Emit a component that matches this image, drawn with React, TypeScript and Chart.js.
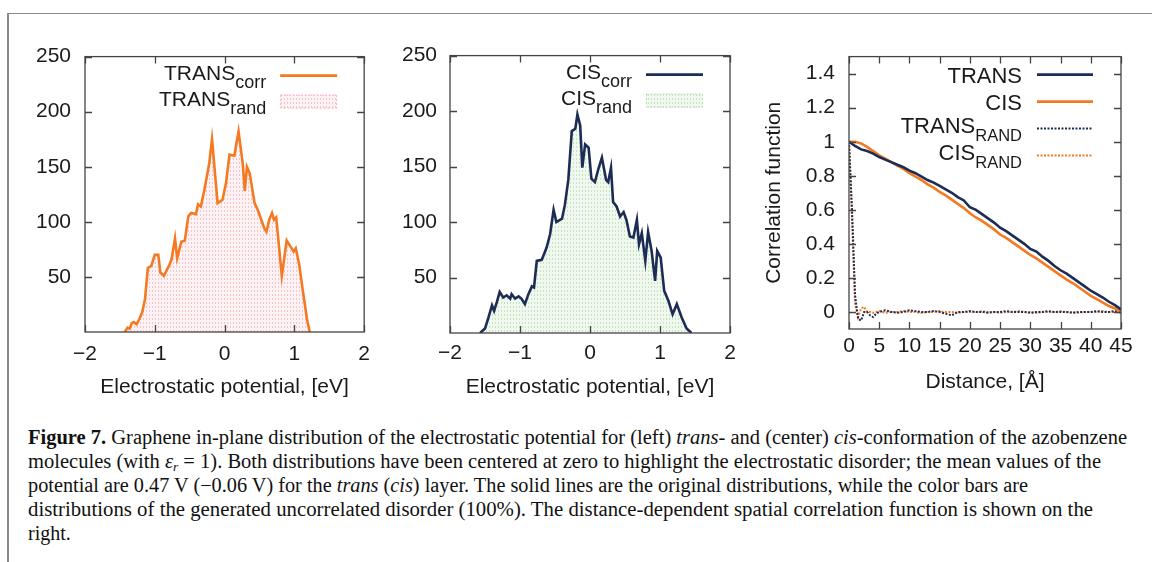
import React, { useEffect, useRef } from "react";
import { Chart, registerables } from "chart.js";

Chart.register(...registerables);

// ---------------- data ----------------
const transPotential = [-1.43,-1.39,-1.36,-1.33,-1.30,-1.26,-1.22,-1.18,-1.14,-1.10,-1.05,-1.00,-0.95,-0.92,-0.87,-0.79,-0.76,-0.71,-0.68,-0.62,-0.57,-0.52,-0.48,-0.41,-0.38,-0.34,-0.29,-0.22,-0.18,-0.10,-0.03,0.02,0.07,0.14,0.20,0.26,0.29,0.32,0.36,0.43,0.48,0.57,0.60,0.64,0.68,0.71,0.74,0.82,0.89,0.95,0.99,1.02,1.07,1.12,1.18,1.22];
const transCorr = [0,4,3,8,9,7,12,18,30,58,60,70,70,54,51,61,66,85,67,82,83,105,108,107,116,114,129,153,175,117,120,135,161,160,182,153,128,150,144,117,110,94,91,102,108,102,104,51,83,77,73,76,61,38,12,0];
const transRand = [0,4,3,8,9,7,12,18,30,58,60,70,70,54,51,61,66,85,67,82,83,105,108,107,116,114,129,153,175,117,120,135,161,160,182,153,128,150,144,117,110,94,91,102,108,102,104,51,83,77,73,76,61,38,12,0];

const cisPotential = [-1.57,-1.50,-1.45,-1.40,-1.37,-1.33,-1.29,-1.24,-1.19,-1.14,-1.12,-1.07,-1.02,-0.98,-0.93,-0.88,-0.83,-0.80,-0.76,-0.69,-0.67,-0.62,-0.57,-0.52,-0.48,-0.40,-0.36,-0.31,-0.26,-0.21,-0.18,-0.14,-0.11,-0.07,-0.02,0.02,0.07,0.12,0.17,0.23,0.26,0.30,0.33,0.38,0.43,0.48,0.52,0.57,0.62,0.67,0.70,0.74,0.79,0.83,0.88,0.93,0.96,1.01,1.06,1.12,1.18,1.24,1.31,1.38,1.45];
const cisCorr = [0,4,14,25,20,28,37,32,34,31,35,31,33,31,26,35,42,41,65,66,69,77,89,111,100,103,115,138,182,184,197,187,149,170,167,139,136,148,158,138,136,149,118,114,105,109,102,87,86,102,80,90,65,91,74,47,74,68,38,29,17,26,14,4,0];
const cisRand = [0,4,14,25,20,28,37,32,34,31,35,31,33,31,26,35,42,41,65,66,69,77,89,111,100,103,115,138,182,184,197,187,149,170,167,139,136,148,158,138,136,149,118,114,105,109,102,87,86,102,80,90,65,91,74,47,74,68,38,29,17,26,14,4,0];

const distance = [0,1,2,3,4,5,6,7,8,9,10,11,12,13,14,15,16,17,18,19,20,21,22,23,24,25,26,27,28,29,30,31,32,33,34,35,36,37,38,39,40,41,42,43,44,45];
const transCorrelation = [1.0,0.975,0.955,0.945,0.93,0.91,0.895,0.88,0.865,0.85,0.83,0.815,0.795,0.775,0.76,0.74,0.72,0.70,0.675,0.655,0.615,0.6,0.575,0.55,0.525,0.495,0.475,0.45,0.425,0.40,0.37,0.355,0.325,0.30,0.27,0.245,0.225,0.20,0.175,0.15,0.125,0.105,0.085,0.06,0.04,0.015];
const cisCorrelation = [1.0,1.0,0.99,0.97,0.945,0.92,0.9,0.88,0.86,0.84,0.815,0.795,0.775,0.75,0.73,0.705,0.685,0.66,0.635,0.61,0.58,0.555,0.535,0.51,0.485,0.455,0.435,0.41,0.385,0.36,0.335,0.315,0.29,0.265,0.24,0.215,0.19,0.17,0.145,0.12,0.095,0.075,0.055,0.035,0.02,0.005];

const randDistance = [0,0.5,1,1.5,2,2.5,3,3.5,4,4.5,5,6,7,8,9,10,11,12,13,14,15,16,17,18,19,20,21,22,23,24,25,26,27,28,29,30,31,32,33,34,35,36,37,38,39,40,41,42,43,44,45];
const transRandCorrelation = [1.0,0.6,0.1,-0.04,-0.05,0.0,0.0,-0.02,-0.03,-0.01,0.0,0.01,0.0,-0.005,0.0,0.01,0.005,0.0,0.0,0.005,0.0,-0.01,-0.02,0.0,0.0,0.005,0.0,0.0,-0.005,0.0,0.0,0.005,0.0,0.0,0.0,-0.005,0.0,0.0,0.005,0.0,0.0,0.0,-0.005,0.0,0.0,0.0,0.005,0.0,0.0,0.005,0.0];
const cisRandCorrelation = [1.0,0.55,0.05,-0.03,0.02,0.03,0.0,0.0,-0.005,0.0,0.005,-0.005,0.0,0.0,0.005,0.0,0.0,-0.005,0.0,0.0,0.005,0.0,0.0,-0.005,0.0,0.0,0.0,0.005,0.0,0.0,-0.005,0.0,0.0,0.005,0.0,0.0,-0.005,0.0,0.0,0.0,0.005,0.0,0.0,-0.005,0.0,0.0,0.0,0.005,0.0,0.0,-0.005];

const potentialTicks = [-2, -1, 0, 1, 2];
const countTicks = [50, 100, 150, 200, 250];
const distanceTicks = [0, 5, 10, 15, 20, 25, 30, 35, 40, 45];
const correlationTicks = [0, 0.2, 0.4, 0.6, 0.8, 1, 1.2, 1.4];

// ---------------- styling ----------------
const FONT = "'Liberation Sans', Arial, Helvetica, sans-serif";
const ORANGE = "#f47a22";
const NAVY = "#1d2c55";
const TEXT = "#1a1a1a";
const CAPTION_WIDTHS = [1099, 1073, 1000, 1065];

const fmt = (v: number) => (v < 0 ? "\u2212" + Math.abs(v) : String(v));
const pts = (xs: number[], ys: number[]) => xs.map((x, i) => ({ x, y: ys[i] }));

function makePattern(bg: string, line: string) {
  const c = document.createElement("canvas");
  c.width = 3;
  c.height = 4;
  const g = c.getContext("2d")!;
  g.fillStyle = bg;
  g.fillRect(0, 0, 3, 4);
  g.fillStyle = line;
  g.fillRect(0, 0, 1, 2);
  return g.createPattern(c, "repeat");
}

const framePlugin = {
  id: "frameTicks",
  afterDatasetsDraw(chart: any) {
    const { ctx, chartArea: a, scales } = chart;
    const L = 7;
    ctx.save();
    ctx.strokeStyle = "#444";
    ctx.lineWidth = 1.3;
    ctx.beginPath();
    for (const t of scales.x.ticks) {
      const p = Math.round(scales.x.getPixelForValue(t.value)) + 0.5;
      ctx.moveTo(p, a.bottom);
      ctx.lineTo(p, a.bottom - L);
      ctx.moveTo(p, a.top);
      ctx.lineTo(p, a.top + L);
    }
    for (const t of scales.y.ticks) {
      const p = Math.round(scales.y.getPixelForValue(t.value)) + 0.5;
      ctx.moveTo(a.left, p);
      ctx.lineTo(a.left + L, p);
      ctx.moveTo(a.right, p);
      ctx.lineTo(a.right - L, p);
    }
    ctx.stroke();
    ctx.strokeRect(a.left, a.top, a.right - a.left, a.bottom - a.top);
    ctx.restore();
  },
};

const legendPlugin = {
  id: "subLegend",
  afterDraw(chart: any, _args: any, opts: any) {
    const { ctx, chartArea: a } = chart;
    ctx.save();
    chart.data.datasets.forEach((d: any, i: number) => {
      const rowY = a.top + opts.firstRow + i * opts.rowGap;
      const textRight = a.right - opts.textGap;
      const s0 = a.right - opts.sampleFrom;
      const s1 = a.right - opts.sampleTo;
      ctx.fillStyle = TEXT;
      ctx.textAlign = "right";
      ctx.textBaseline = "alphabetic";
      if (d.sub) {
        ctx.font = `${opts.subSize}px ${FONT}`;
        ctx.fillText(d.sub, textRight, rowY + opts.subBase);
        const w = ctx.measureText(d.sub).width;
        ctx.font = `${opts.size}px ${FONT}`;
        ctx.fillText(d.label, textRight - w, rowY + opts.mainBaseSub);
      } else {
        ctx.font = `${opts.size}px ${FONT}`;
        ctx.fillText(d.label, textRight, rowY + opts.mainBase);
      }
      if (d.legendKind === "box") {
        ctx.fillStyle = d.backgroundColor;
        ctx.fillRect(s0, rowY - 7, s1 - s0, 14);
        ctx.setLineDash([2, 2]);
        ctx.strokeStyle = d.borderColor;
        ctx.lineWidth = 1;
        ctx.strokeRect(s0 + 0.5, rowY - 6.5, s1 - s0 - 1, 13);
      } else {
        ctx.setLineDash(d.borderDash || []);
        ctx.strokeStyle = d.borderColor;
        ctx.lineWidth = d.borderWidth;
        ctx.beginPath();
        ctx.moveTo(s0, rowY);
        ctx.lineTo(s1, rowY);
        ctx.stroke();
      }
      ctx.setLineDash([]);
    });
    ctx.restore();
  },
};

function axisCommon(ticksArr: number[], min: number, max: number, extra: any) {
  return {
    type: "linear",
    min,
    max,
    afterBuildTicks: (s: any) => {
      s.ticks = ticksArr.map((v) => ({ value: v }));
    },
    grid: { display: false, drawTicks: false },
    border: { display: false },
    ...extra,
  };
}

function histConfig(
  xs: number[],
  corr: number[],
  rand: number[],
  label: string,
  lineColor: string,
  pattern: any,
  patternBorder: string,
  geo: any
) {
  return {
    type: "line",
    data: {
      datasets: [
        {
          label,
          sub: "corr",
          legendKind: "line",
          data: pts(xs, corr),
          borderColor: lineColor,
          borderWidth: 2.6,
          pointRadius: 0,
          fill: false,
          tension: 0,
          order: 0,
        },
        {
          label,
          sub: "rand",
          legendKind: "box",
          data: pts(xs, rand),
          borderColor: patternBorder,
          borderWidth: 1,
          borderDash: [2, 2],
          backgroundColor: pattern,
          pointRadius: 0,
          fill: "origin",
          tension: 0,
          order: 1,
        },
      ],
    },
    options: {
      responsive: false,
      animation: false,
      events: [],
      layout: { padding: geo.padding },
      plugins: {
        legend: { display: false },
        tooltip: { enabled: false },
        subLegend: {
          firstRow: 19,
          rowGap: 26,
          textGap: 98,
          sampleFrom: 84,
          sampleTo: 27,
          size: 21,
          subSize: 18,
          mainBase: 8,
          mainBaseSub: 4,
          subBase: 12,
        },
      },
      scales: {
        x: axisCommon(potentialTicks, -2, 2, {
          afterFit: (s: any) => {
            s.height = geo.xHeight;
          },
          ticks: {
            font: { family: FONT, size: 21 },
            color: TEXT,
            padding: geo.xPad,
            maxRotation: 0,
            autoSkip: false,
            callback: (v: any) => fmt(Number(v)),
          },
          title: {
            display: true,
            text: "Electrostatic potential, [eV]",
            font: { family: FONT, size: 21 },
            color: TEXT,
            padding: 0,
          },
        }),
        y: axisCommon(countTicks, 0, 250, {
          afterFit: (s: any) => {
            s.width = geo.yWidth;
          },
          ticks: {
            font: { family: FONT, size: 21 },
            color: TEXT,
            padding: geo.yPad,
            callback: (v: any) => fmt(Number(v)),
          },
        }),
      },
    },
    plugins: [framePlugin, legendPlugin],
  };
}

function corrConfig() {
  return {
    type: "line",
    data: {
      datasets: [
        { label: "TRANS", legendKind: "line", data: pts(distance, transCorrelation), borderColor: NAVY, borderWidth: 2.6, pointRadius: 0, fill: false, order: 1 },
        { label: "CIS", legendKind: "line", data: pts(distance, cisCorrelation), borderColor: ORANGE, borderWidth: 2.6, pointRadius: 0, fill: false, order: 2 },
        { label: "TRANS", sub: "RAND", legendKind: "line", data: pts(randDistance, transRandCorrelation), borderColor: NAVY, borderWidth: 2, borderDash: [2, 1.5], pointRadius: 0, fill: false, order: 3 },
        { label: "CIS", sub: "RAND", legendKind: "line", data: pts(randDistance, cisRandCorrelation), borderColor: ORANGE, borderWidth: 2, borderDash: [2, 1.5], pointRadius: 0, fill: false, order: 4 },
      ],
    },
    options: {
      responsive: false,
      animation: false,
      events: [],
      layout: { padding: { left: 12, top: 25, right: 29, bottom: 10 } },
      plugins: {
        legend: { display: false },
        tooltip: { enabled: false },
        subLegend: {
          firstRow: 18,
          rowGap: 27,
          textGap: 99,
          sampleFrom: 84,
          sampleTo: 28,
          size: 22,
          subSize: 16.5,
          mainBase: 8,
          mainBaseSub: 4,
          subBase: 12,
        },
      },
      scales: {
        x: axisCommon(distanceTicks, 0, 45, {
          afterFit: (s: any) => {
            s.height = 66;
          },
          ticks: {
            font: { family: FONT, size: 21 },
            color: TEXT,
            padding: 5,
            maxRotation: 0,
            autoSkip: false,
            callback: (v: any) => fmt(Number(v)),
          },
          title: {
            display: true,
            text: "Distance, [\u00c5]",
            font: { family: FONT, size: 21 },
            color: TEXT,
            padding: 0,
          },
        }),
        y: axisCommon(correlationTicks, -0.1, 1.5, {
          afterFit: (s: any) => {
            s.width = 87;
          },
          ticks: {
            font: { family: FONT, size: 21 },
            color: TEXT,
            padding: 14,
            callback: (v: any) => fmt(Number(v)),
          },
          title: {
            display: true,
            text: "Correlation function",
            font: { family: FONT, size: 21 },
            color: TEXT,
            padding: 0,
          },
        }),
      },
    },
    plugins: [framePlugin, legendPlugin],
  };
}

const captionLine: React.CSSProperties = { whiteSpace: "nowrap", height: 24, lineHeight: "24px" };
const captionSpan: React.CSSProperties = { display: "inline-block", transformOrigin: "left center" };

export default function App() {
  const c1 = useRef<HTMLCanvasElement>(null);
  const c2 = useRef<HTMLCanvasElement>(null);
  const c3 = useRef<HTMLCanvasElement>(null);
  const lineRefs = useRef<(HTMLSpanElement | null)[]>([]);

  useEffect(() => {
    const pink = makePattern("#fef3f4", "#f6c3ca");
    const green = makePattern("#f1f8ef", "#c6e4c1");
    const charts = [
      new Chart(
        c1.current!,
        histConfig(transPotential, transCorr, transRand, "TRANS", ORANGE, pink, "#f4b3bc", {
          padding: { left: 0, top: 20, right: 15, bottom: 5 },
          xHeight: 68,
          xPad: 10,
          yWidth: 65,
          yPad: 14,
        }) as any
      ),
      new Chart(
        c2.current!,
        histConfig(cisPotential, cisCorr, cisRand, "CIS", NAVY, green, "#b9dcb4", {
          padding: { left: 0, top: 21, right: 20, bottom: 5 },
          xHeight: 67,
          xPad: 8,
          yWidth: 60,
          yPad: 13,
        }) as any
      ),
      new Chart(c3.current!, corrConfig() as any),
    ];
    lineRefs.current.forEach((el, i) => {
      if (!el || CAPTION_WIDTHS[i] === undefined) return;
      const w = el.getBoundingClientRect().width;
      if (w > 0) el.style.transform = `scaleX(${CAPTION_WIDTHS[i] / w})`;
    });
    return () => charts.forEach((c) => c.destroy());
  }, []);

  const canvasStyle = (left: number): React.CSSProperties => ({ position: "absolute", left, top: 30, display: "block" });
  const setRef = (i: number) => (el: HTMLSpanElement | null) => {
    lineRefs.current[i] = el;
  };

  return (
    <div style={{ position: "fixed", left: 0, top: 0, width: 1152, height: 562, background: "#fff", overflow: "hidden" }}>
      <div style={{ position: "absolute", left: 7, top: 13, width: 1200, height: 600, borderTop: "1.5px solid #8a8a8a", borderLeft: "2px solid #8a8a8a" }} />
      <canvas ref={c1} width={360} height={375} style={canvasStyle(20)} />
      <canvas ref={c2} width={360} height={375} style={canvasStyle(390)} />
      <canvas ref={c3} width={400} height={375} style={canvasStyle(750)} />
      <div style={{ position: "absolute", left: 28, top: 425, fontFamily: "'Liberation Serif', 'Times New Roman', serif", fontSize: 20, color: "#111" }}>
        <div style={captionLine}>
          <span ref={setRef(0)} style={captionSpan}>
            <b>Figure 7.</b> Graphene in-plane distribution of the electrostatic potential for (left) <i>trans</i>- and (center) <i>cis</i>-conformation of the azobenzene
          </span>
        </div>
        <div style={captionLine}>
          <span ref={setRef(1)} style={captionSpan}>
            molecules (with <i>ε</i><sub style={{ fontSize: 13, verticalAlign: "-3px", fontStyle: "italic", lineHeight: 0 }}>r</sub> = 1). Both distributions have been centered at zero to highlight the electrostatic disorder; the mean values of the
          </span>
        </div>
        <div style={captionLine}>
          <span ref={setRef(2)} style={captionSpan}>
            potential are 0.47 V (−0.06 V) for the <i>trans</i> (<i>cis</i>) layer. The solid lines are the original distributions, while the color bars are
          </span>
        </div>
        <div style={captionLine}>
          <span ref={setRef(3)} style={captionSpan}>
            distributions of the generated uncorrelated disorder (100%). The distance-dependent spatial correlation function is shown on the
          </span>
        </div>
        <div style={captionLine}>
          <span ref={setRef(4)} style={captionSpan}>right.</span>
        </div>
      </div>
    </div>
  );
}
